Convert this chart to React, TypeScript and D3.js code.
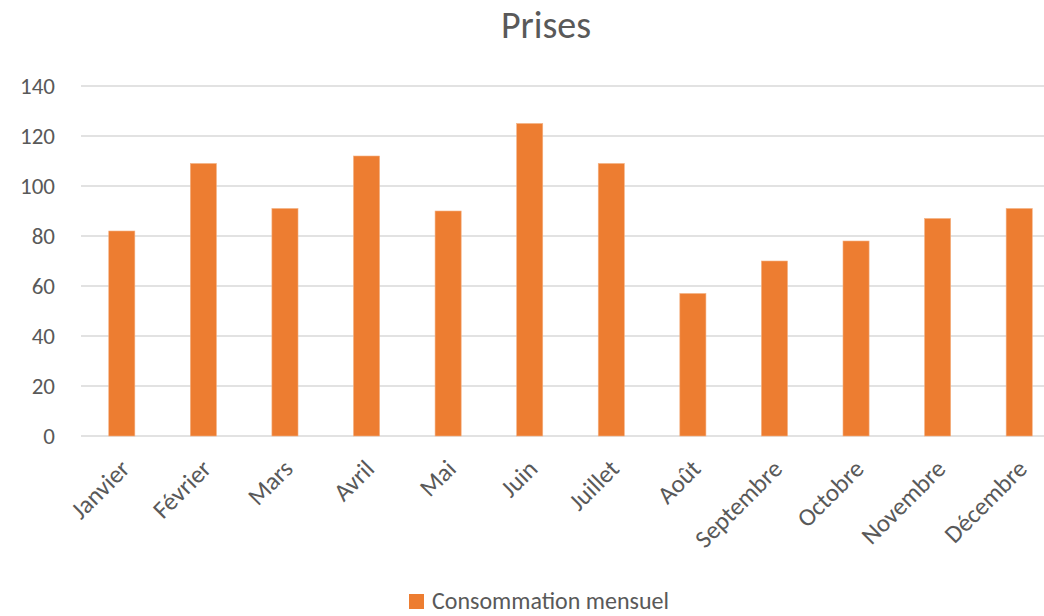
import React from "react";
import * as d3 from "d3";

const months = ["Janvier", "Février", "Mars", "Avril", "Mai", "Juin", "Juillet", "Août", "Septembre", "Octobre", "Novembre", "Décembre"];
const consommation = [82, 109, 91, 112, 90, 125, 109, 57, 70, 78, 87, 91];
const yTicks = [0, 20, 40, 60, 80, 100, 120, 140];
const seriesName = "Consommation mensuel";

const width = 1044;
const height = 616;
const font = "Calibri, Carlito, Lato, 'Open Sans', sans-serif";

function App() {
  const x = d3.scaleBand().domain(months).range([81, 1060]).paddingInner(0.68).paddingOuter(0.34);
  const y = d3.scaleLinear().domain([0, 140]).range([436, 86]);

  return (
    <div style={{ position: "absolute", left: 0, top: 0 }}>
      <svg width={width} height={height} style={{ display: "block", background: "#fff" }}>
        <text x={546} y={38} textAnchor="middle" fontFamily={font} fontSize={38} fill="#595959">Prises</text>

        {yTicks.map((t) => (
          <g key={t}>
            <line x1={81} x2={1060} y1={y(t)} y2={y(t)} stroke="#d9d9d9" strokeWidth={1.5} />
            <text x={55} y={y(t)} dy="0.36em" textAnchor="end" fontFamily={font} fontSize={23} fill="#595959">{t}</text>
          </g>
        ))}

        {months.map((m, i) => (
          <rect key={m} x={x(m)} y={y(consommation[i])} width={x.bandwidth()} height={y(0) - y(consommation[i])}
            fill="#ed7d31" stroke="#f4b183" strokeWidth={0.6} />
        ))}

        {months.map((m) => {
          const cx = (x(m) as number) + x.bandwidth() / 2 - 3;
          return (
            <text key={m} transform={`translate(${cx},458) rotate(-45)`} textAnchor="end" dy="0.7em"
              fontFamily={font} fontSize={25} fill="#595959">{m}</text>
          );
        })}

        <rect x={409} y={594} width={15} height={15} fill="#ed7d31" />
        <text x={432} y={609} fontFamily={font} fontSize={24} fill="#595959">{seriesName}</text>
      </svg>
    </div>
  );
}

export default App;
